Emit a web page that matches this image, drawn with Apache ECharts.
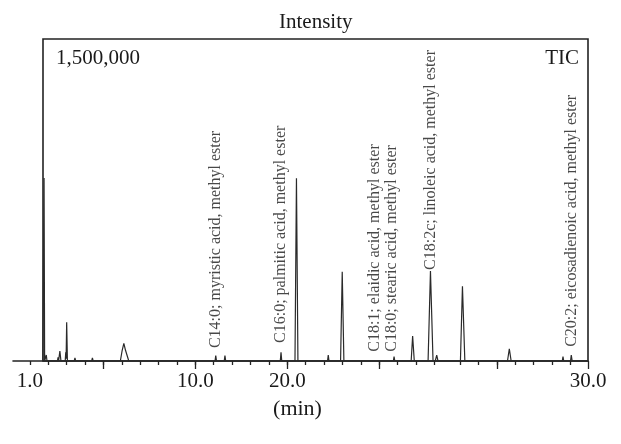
<!DOCTYPE html>
<html>
<head>
<meta charset="utf-8">
<script src="https://cdn.jsdelivr.net/npm/echarts@6/dist/echarts.min.js"></script>
<style>html,body{margin:0;padding:0;background:#fff}#c{width:621px;height:444px}</style>
</head>
<body>
<div id="c"></div>
<script>
// Trace (x in axis tick units, y in intensity counts)
var traceTime = [0.70,0.74,0.77,0.80,0.86,0.89,0.93,1.50,1.53,1.56,1.58,1.63,1.69,1.92,1.95,1.97,2.00,2.04,2.41,2.45,2.49,3.36,3.40,3.44,4.92,5.02,5.11,5.20,5.38,10.07,10.11,10.15,10.57,10.61,10.65,13.62,13.66,13.70,14.42,14.50,14.58,16.19,16.23,16.27,16.90,16.99,17.08,19.77,19.81,19.85,20.74,20.82,20.91,21.66,21.79,21.93,22.05,22.13,22.20,23.42,23.53,23.66,25.98,26.08,26.18,26.95,26.99,27.03,28.96,29.00,29.04,29.41,29.45,29.50,30.36];
var traceIntensity = [0,0,852000,0,0,28000,0,0,17000,0,0,46000,0,0,40000,10000,180000,0,0,15000,0,0,14000,0,0,50000,82000,50000,0,0,25000,0,0,25000,0,0,40000,0,0,851000,0,0,28000,0,0,416000,0,0,21000,0,0,116000,0,0,419000,0,0,27000,0,0,348000,0,0,57000,0,0,7000,0,0,21000,0,0,28000,0,0];

// Peak annotations
var annotText = ['C14:0; myristic acid, methyl ester','C16:0; palmitic acid, methyl ester','C18:1; elaidic acid, methyl ester','C18:0; stearic acid, methyl ester','C18:2c; linoleic acid, methyl ester','C20:2; eicosadienoic acid, methyl ester'];
var annotTime = [10.12, 13.66, 18.74, 19.67, 21.82, 29.46];
var annotBase = [60000, 84000, 43000, 43000, 424000, 66000];

// Axis ticks and labels
var axisMin = -0.92, axisMax = 30.36;
var minorTicks = [0,1,2,3,4,5,6,7,8,9,10,11,12,13,14,15,16,17,18,19,20,21,22,23.4,24.4,25.4,26.4,27.4,28.4,29.4];
var majorTicks = [4,9,14,19,25.4,30.36];
var tickLabelPos = [0,9,14,30.36];
var tickLabelText = ['1.0','10.0','20.0','30.0'];
var yMax = 1500000;

var serif = "'Liberation Serif','DejaVu Serif',serif";
var ink = '#1a1a1a';

var chart = echarts.init(document.getElementById('c'));
chart.setOption({
  backgroundColor: '#fff',
  animation: false,
  title: [
    {text: 'Intensity', left: 274, top: 7, textStyle: {fontFamily: serif, fontSize: 21, fontWeight: 'normal', color: ink}},
    {text: '1,500,000', left: 51, top: 43, textStyle: {fontFamily: serif, fontSize: 21, fontWeight: 'normal', color: ink}},
    {text: 'TIC', right: 37, top: 43, textStyle: {fontFamily: serif, fontSize: 21, fontWeight: 'normal', color: ink}}
  ],
  grid: [
    {left: 43, right: 33, top: 39, bottom: 83, show: true, borderColor: '#222', borderWidth: 1.6, backgroundColor: 'transparent'},
    {left: 13, right: 33, top: 39, bottom: 83}
  ],
  xAxis: [
    {gridIndex: 0, type: 'value', show: false, min: 0, max: 1},
    {gridIndex: 1, type: 'value', min: axisMin, max: axisMax, position: 'bottom',
     name: '(min)', nameLocation: 'middle', nameGap: 37,
     nameTextStyle: {fontFamily: serif, fontSize: 22, color: ink, padding: [0, 6, 0, 0]},
     axisLine: {show: true, onZero: false, lineStyle: {color: '#222', width: 1.6}},
     axisTick: {show: true, length: 4, customValues: minorTicks, lineStyle: {color: '#222', width: 1.3}},
     axisLabel: {show: true, margin: 10, customValues: tickLabelPos, fontFamily: serif, fontSize: 21, color: ink,
       formatter: function (v) { for (var i = 0; i < tickLabelPos.length; i++) { if (Math.abs(tickLabelPos[i] - v) < 1e-6) return tickLabelText[i]; } return ''; }},
     splitLine: {show: false}},
    {gridIndex: 1, type: 'value', min: axisMin, max: axisMax, position: 'bottom',
     axisLine: {show: false, onZero: false},
     axisTick: {show: true, length: 8, customValues: majorTicks, lineStyle: {color: '#222', width: 1.3}},
     axisLabel: {show: false}, splitLine: {show: false}}
  ],
  yAxis: [
    {gridIndex: 0, type: 'value', show: false, min: 0, max: 1},
    {gridIndex: 1, type: 'value', show: false, min: 0, max: yMax, splitLine: {show: false}}
  ],
  series: [
    {type: 'line', xAxisIndex: 1, yAxisIndex: 1, showSymbol: false, symbol: 'none',
     lineStyle: {color: '#2a2a2a', width: 1.2}, z: 3,
     data: traceTime.map(function (t, i) { return [t, traceIntensity[i]]; })},
    {type: 'scatter', xAxisIndex: 1, yAxisIndex: 1, symbolSize: 0, silent: true, z: 4,
     label: {show: true, position: 'inside', rotate: 90, align: 'left', verticalAlign: 'middle',
       fontFamily: serif, fontSize: 16, color: ink,
       formatter: function (p) { return annotText[p.dataIndex]; }},
     data: annotTime.map(function (t, i) { return [t, annotBase[i]]; })}
  ]
});
</script>
</body>
</html>
